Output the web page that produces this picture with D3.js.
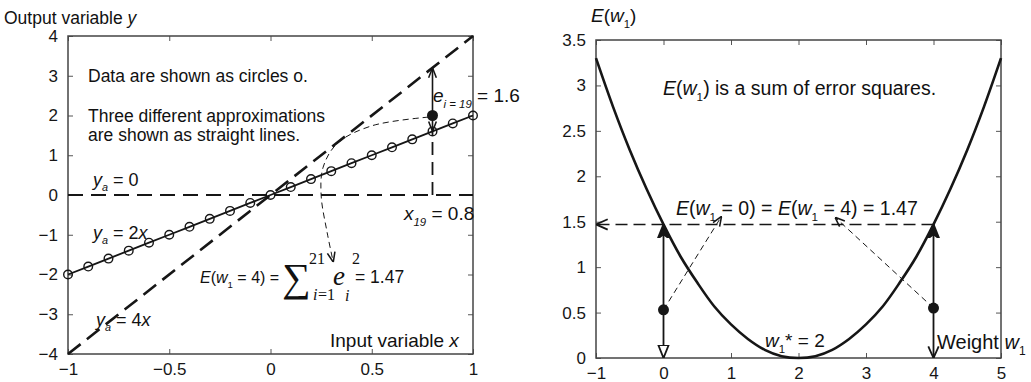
<!DOCTYPE html>
<html>
<head>
<meta charset="utf-8">
<script src="https://cdn.jsdelivr.net/npm/d3@7"></script>
<style>
    body { margin: 0; background: #fff; }
    svg { font-family: 'Liberation Sans', Arial, sans-serif; }
    .ann { fill: #111; }
    .serif { font-family: 'Liberation Serif', serif; }
</style>
</head>
<body>
<svg id="drawing_region"></svg>
<script>
// ---- data: left panel (linear approximations) ----
const inputX = [-1, -0.9, -0.8, -0.7, -0.6, -0.5, -0.4, -0.3, -0.2, -0.1, 0,
    0.1, 0.2, 0.3, 0.4, 0.5, 0.6, 0.7, 0.8, 0.9, 1];
const outputY = [-2, -1.8, -1.6, -1.4, -1.2, -1, -0.8, -0.6, -0.4, -0.2, 0,
    0.2, 0.4, 0.6, 0.8, 1, 1.2, 1.4, 1.6, 1.8, 2];
const lineEndsX = [-1, 1];
const approxZero = [0, 0];      // y_a = 0
const approxFour = [-4, 4];     // y_a = 4x
const leftXTicks = [-1, -0.5, 0, 0.5, 1];
const leftYTicks = [-4, -3, -2, -1, 0, 1, 2, 3, 4];

// ---- data: right panel (error curve) ----
const weights = [-1, -0.75, -0.5, -0.25, 0, 0.25, 0.5, 0.75, 1, 1.25, 1.5, 1.75, 2,
    2.25, 2.5, 2.75, 3, 3.25, 3.5, 3.75, 4, 4.25, 4.5, 4.75, 5];
const errorE = [3.30, 2.77, 2.29, 1.86, 1.47, 1.12, 0.83, 0.57, 0.37, 0.21, 0.09, 0.02, 0.00,
    0.02, 0.09, 0.21, 0.37, 0.57, 0.83, 1.12, 1.47, 1.86, 2.29, 2.77, 3.30];
const rightXTicks = [-1, 0, 1, 2, 3, 4, 5];
const rightYTicks = [0, 0.5, 1, 1.5, 2, 2.5, 3, 3.5];
const levelE = 1.47;
const markedW = [0, 4];
const markedDots = [0.53, 0.55];

const ink = '#161616';
const svg = d3.select('#drawing_region').attr('width', 1031).attr('height', 382);

// arrow heads
const defs = svg.append('defs');
function marker(id, d, fill, size) {
    defs.append('marker')
        .attr('id', id)
        .attr('viewBox', '0 0 10 10')
        .attr('refX', 10).attr('refY', 5)
        .attr('markerUnits', 'userSpaceOnUse')
        .attr('markerWidth', size).attr('markerHeight', size)
        .attr('orient', 'auto-start-reverse')
        .append('path')
        .attr('d', d)
        .attr('fill', fill)
        .attr('stroke', ink)
        .attr('stroke-width', 1.4)
        .attr('stroke-dasharray', 'none');
}
marker('openV', 'M1,1 L10,5 L1,9', 'none', 13);
marker('openVsmall', 'M1,1.5 L10,5 L1,8.5', 'none', 11);
marker('solidTri', 'M0,1 L10,5 L0,9 L3,5 z', ink, 14);
marker('hollowTri', 'M0,1 L10,5 L0,9 z', '#fff', 13);

function frame(x, y, xticks, yticks) {
    const [x0, x1] = x.range();
    const [y0, y1] = y.range();
    const g = svg.append('g');
    const fmt = d3.format('~g');
    g.append('g').attr('transform', `translate(0,${y0})`)
        .call(d3.axisBottom(x).tickValues(xticks).tickFormat(fmt).tickSizeInner(-5).tickSizeOuter(0).tickPadding(9));
    g.append('g').attr('transform', `translate(0,${y1})`)
        .call(d3.axisTop(x).tickValues(xticks).tickFormat('').tickSizeInner(-5).tickSizeOuter(0));
    g.append('g').attr('transform', `translate(${x0},0)`)
        .call(d3.axisLeft(y).tickValues(yticks).tickFormat(fmt).tickSizeInner(-5).tickSizeOuter(0).tickPadding(10));
    g.append('g').attr('transform', `translate(${x1},0)`)
        .call(d3.axisRight(y).tickValues(yticks).tickFormat('').tickSizeInner(-5).tickSizeOuter(0));
    g.selectAll('.domain').remove();
    g.selectAll('.tick line').attr('stroke', '#555');
    g.selectAll('.tick text').attr('font-size', 17).attr('fill', ink)
        .attr('font-family', "'Liberation Sans', Arial, sans-serif");
    g.append('rect')
        .attr('x', x0).attr('y', y1)
        .attr('width', x1 - x0).attr('height', y0 - y1)
        .attr('fill', 'none').attr('stroke', '#444').attr('stroke-width', 1.5);
}

// text with italic parts and subscripts: segments [text, italic?, sub?]
function label(x, y, parts, size) {
    const t = svg.append('text').attr('class', 'ann')
        .attr('x', x).attr('y', y).style('font-size', size + 'px');
    let shift = 0;
    parts.forEach(([s, it, sub]) => {
        const want = sub ? size * 0.3 : 0;
        t.append('tspan')
            .attr('dy', want - shift)
            .attr('font-style', it ? 'italic' : null)
            .style('font-size', sub ? (size * 0.6) + 'px' : null)
            .text(s);
        shift = want;
    });
    return t;
}
function serif(x, y, s, size, italic) {
    return svg.append('text').attr('class', 'serif ann')
        .attr('x', x).attr('y', y).style('font-size', size + 'px')
        .attr('font-style', italic ? 'italic' : null).text(s);
}

// ================= left panel =================
const xL = d3.scaleLinear().domain([-1, 1]).range([68, 473]);
const yL = d3.scaleLinear().domain([-4, 4]).range([354, 36]);
frame(xL, yL, leftXTicks, leftYTicks);

const straight = d3.line().x(d => xL(d[0])).y(d => yL(d[1]));

svg.append('path')
    .attr('d', straight(d3.zip(lineEndsX, approxZero)))
    .attr('stroke', ink).attr('stroke-width', 2.2).attr('stroke-dasharray', '15,8').attr('fill', 'none');
svg.append('path')
    .attr('d', straight(d3.zip(lineEndsX, approxFour)))
    .attr('stroke', ink).attr('stroke-width', 2.6).attr('stroke-dasharray', '16,8').attr('fill', 'none');

const pts = d3.zip(inputX, outputY);
svg.append('path')
    .attr('d', straight(pts))
    .attr('stroke', ink).attr('stroke-width', 1.8).attr('fill', 'none');
svg.selectAll('circle.data').data(pts).enter()
    .append('circle').attr('class', 'data')
    .attr('cx', d => xL(d[0])).attr('cy', d => yL(d[1])).attr('r', 4.3)
    .attr('fill', 'none').attr('stroke', ink).attr('stroke-width', 1.4);

// error e_19 at x = 0.8
const x19 = inputX[18], y19 = outputY[18];
svg.append('line')
    .attr('x1', xL(x19)).attr('x2', xL(x19)).attr('y1', yL(0)).attr('y2', yL(y19))
    .attr('stroke', ink).attr('stroke-width', 1.8).attr('stroke-dasharray', '13,7');
svg.append('line')
    .attr('x1', xL(x19)).attr('x2', xL(x19)).attr('y1', yL(y19)).attr('y2', yL(4 * x19))
    .attr('stroke', ink).attr('stroke-width', 1.6)
    .attr('marker-start', 'url(#openVsmall)').attr('marker-end', 'url(#openVsmall)');
svg.append('circle').attr('cx', xL(x19)).attr('cy', yL(2.0)).attr('r', 5.5).attr('fill', ink);

const curvePts = [[0.78, 1.96], [0.5, 1.74], [0.33, 1.3], [0.26, 0.7], [0.25, 0], [0.28, -0.95], [0.31, -1.69]];
svg.append('path')
    .attr('d', d3.line().x(d => xL(d[0])).y(d => yL(d[1])).curve(d3.curveCatmullRom)(curvePts))
    .attr('fill', 'none').attr('stroke', ink).attr('stroke-width', 1).attr('stroke-dasharray', '6,4')
    .attr('marker-end', 'url(#openVsmall)');

// left texts
label(4, 24, [['Output variable '], ['y', true]], 17.5);
label(88, 82, [['Data are shown as circles o.']], 17.5);
label(88, 122, [['Three different approximations']], 17.5);
label(88, 141, [['are shown as straight lines.']], 17.5);
label(93, 186, [['y', true], ['a', true, true], [' = 0']], 18);
label(93, 239, [['y', true], ['a', true, true], [' = 2', false], ['x', true]], 18);
label(96, 326, [['y', true], ['a', true, true], [' = 4', false], ['x', true]], 18);
label(330, 347, [['Input variable  '], ['x', true]], 19);
label(404, 220, [['x', true], ['19', true, true], [' = 0.8']], 19);
label(433, 102, [['e', true], ['i = 19', true, true], [' = 1.6']], 19);

// E(w1 = 4) = sum formula
label(200, 283, [['E', true], ['(', false], ['w', true], ['1', false, true], [' = 4) =']], 16);
serif(282, 291, '∑', 40);
serif(309, 264, '21', 16);
serif(313, 300, 'i', 16, true);
serif(318, 300, '=1', 16);
serif(333, 285, 'e', 27, true);
serif(345, 301, 'i', 16, true);
serif(352, 264, '2', 16);
label(355, 283, [['= 1.47']], 17.5);

// ================= right panel =================
const xR = d3.scaleLinear().domain([-1, 5]).range([596, 1001]);
const yR = d3.scaleLinear().domain([0, 3.5]).range([358, 40]);
frame(xR, yR, rightXTicks, rightYTicks);

svg.append('path')
    .attr('d', d3.line().x((d, i) => xR(weights[i])).y(d => yR(d)).curve(d3.curveCatmullRom)(errorE))
    .attr('fill', 'none').attr('stroke', ink).attr('stroke-width', 2.6);

// level line E = 1.47
svg.append('line')
    .attr('x1', xR(markedW[1])).attr('x2', xR(-1)).attr('y1', yR(levelE)).attr('y2', yR(levelE))
    .attr('stroke', ink).attr('stroke-width', 1.6).attr('stroke-dasharray', '12,6')
    .attr('marker-end', 'url(#openV)');

markedW.forEach((w, i) => {
    svg.append('line')
        .attr('x1', xR(w)).attr('x2', xR(w)).attr('y1', yR(markedDots[i])).attr('y2', yR(levelE))
        .attr('stroke', ink).attr('stroke-width', 1.8).attr('marker-end', 'url(#solidTri)');
    svg.append('line')
        .attr('x1', xR(w)).attr('x2', xR(w)).attr('y1', yR(markedDots[i])).attr('y2', yR(0))
        .attr('stroke', ink).attr('stroke-width', 1.8)
        .attr('marker-end', i === 0 ? 'url(#hollowTri)' : 'url(#openV)');
    svg.append('circle').attr('cx', xR(w)).attr('cy', yR(markedDots[i])).attr('r', 5.5).attr('fill', ink);
});

const pointers = [[[0, 0.53], [0.86, 1.56]], [[4, 0.55], [2.54, 1.55]]];
pointers.forEach(p => {
    svg.append('line')
        .attr('x1', xR(p[0][0])).attr('y1', yR(p[0][1]))
        .attr('x2', xR(p[1][0])).attr('y2', yR(p[1][1]))
        .attr('stroke', ink).attr('stroke-width', 1).attr('stroke-dasharray', '6,4')
        .attr('marker-end', 'url(#openVsmall)');
});

// right texts
label(591, 22, [['E', true], ['(', false], ['w', true], ['1', false, true], [')']], 19);
label(663, 95, [['E', true], ['(', false], ['w', true], ['1', false, true], [') is a sum of error squares.']], 19.5);
label(676, 215, [['E', true], ['(', false], ['w', true], ['1', false, true], [' = 0) = ', false],
    ['E', true], ['(', false], ['w', true], ['1', false, true], [' = 4) = 1.47']], 19.5);
label(765, 347, [['w', true], ['1', false, true], ['* = 2']], 19);
label(937, 349, [['Weight  '], ['w', true], ['1', false, true]], 20);
</script>
</body>
</html>
